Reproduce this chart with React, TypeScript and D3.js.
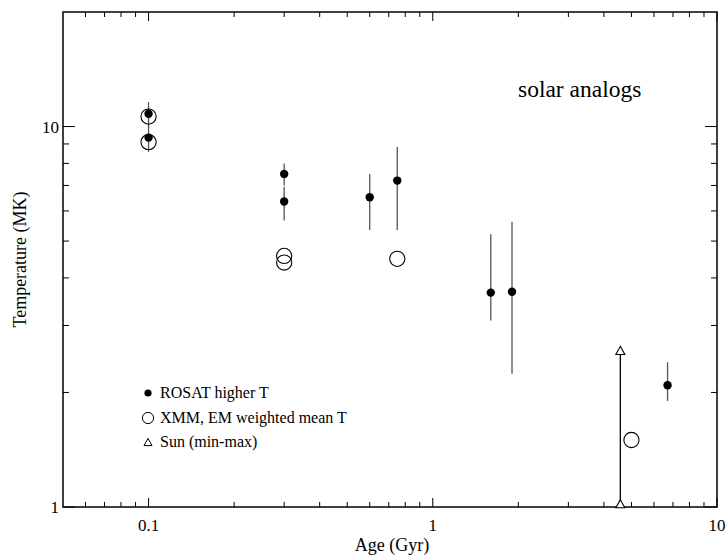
import React from "react";
import * as d3 from "d3";

// ROSAT higher T (filled circles)
const rosatAge = [0.1, 0.1, 0.3, 0.3, 0.6, 0.75, 1.6, 1.9, 6.7];
const rosatT = [10.8, 9.35, 7.5, 6.35, 6.52, 7.21, 3.66, 3.68, 2.09];
const rosatLo = [9.9, 8.58, 7.0, 5.66, 5.35, 5.35, 3.09, 2.24, 1.9];
const rosatHi = [11.6, 10.0, 8.0, 6.95, 7.5, 8.83, 5.21, 5.62, 2.4];

// XMM, EM weighted mean T (open circles)
const xmmAge = [0.1, 0.1, 0.3, 0.3, 0.75, 5.0];
const xmmT = [10.62, 9.1, 4.57, 4.39, 4.49, 1.5];

// Sun (min-max)
const sunAge = [4.57, 4.57];
const sunT = [1.02, 2.58];

const xMajor = [0.1, 1, 10];
const xMajorLabels = ["0.1", "1", "10"];
const xMinor = [0.06, 0.07, 0.08, 0.09, 0.2, 0.3, 0.4, 0.5, 0.6, 0.7, 0.8, 0.9, 2, 3, 4, 5, 6, 7, 8, 9];
const yMajor = [1, 10];
const yMajorLabels = ["1", "10"];
const yMinor = [2, 3, 4, 5, 6, 7, 8, 9];

const legendLabels = ["ROSAT higher T", "XMM, EM weighted mean T", "Sun (min-max)"];

const W = 727;
const H = 556;
const L = 63, R = 717, T = 12, B = 507;
const FONT = "Liberation Serif, Times New Roman, Times, serif";

function tri(cx: number, cy: number, s: number) {
  const h = s * 0.9;
  return `M${cx},${cy - h / 2}L${cx + s / 2},${cy + h / 2}L${cx - s / 2},${cy + h / 2}Z`;
}

export default function App() {
  const x = d3.scaleLog().domain([0.05, 10]).range([L, R]);
  const y = d3.scaleLog().domain([1, 20]).range([B, T]);

  const errColor = "#555";
  const ts = { fontFamily: FONT };

  return (
    <>
      <style>{`body{margin:0} svg text{font-family:"Liberation Serif","Times New Roman",serif}`}</style>
      <svg width={W} height={H} style={{ display: "block", background: "#fff", fontFamily: FONT }}>
        {/* ticks */}
        <g stroke="#000" strokeWidth={1}>
          {xMajor.map((v, i) => (
            <g key={"xM" + i}>
              <line x1={x(v)} x2={x(v)} y1={B} y2={B - 9} />
              <line x1={x(v)} x2={x(v)} y1={T} y2={T + 9} />
            </g>
          ))}
          {xMinor.map((v, i) => (
            <g key={"xm" + i}>
              <line x1={x(v)} x2={x(v)} y1={B} y2={B - 5} />
              <line x1={x(v)} x2={x(v)} y1={T} y2={T + 5} />
            </g>
          ))}
          {yMajor.map((v, i) => (
            <g key={"yM" + i}>
              <line x1={L} x2={L + 12} y1={y(v)} y2={y(v)} />
              <line x1={R} x2={R - 12} y1={y(v)} y2={y(v)} />
            </g>
          ))}
          {yMinor.map((v, i) => (
            <g key={"ym" + i}>
              <line x1={L} x2={L + 6} y1={y(v)} y2={y(v)} />
              <line x1={R} x2={R - 6} y1={y(v)} y2={y(v)} />
            </g>
          ))}
        </g>
        {/* frame */}
        <rect x={L} y={T} width={R - L} height={B - T} fill="none" stroke="#000" strokeWidth={1.5} />

        {/* tick labels */}
        <g fill="#000">
          {xMajor.map((v, i) => (
            <text key={"xl" + i} x={x(v)} y={B + 24} textAnchor="middle" fontSize={17} style={ts}>
              {xMajorLabels[i]}
            </text>
          ))}
          {yMajor.map((v, i) => (
            <text key={"yl" + i} x={L - 4} y={y(v) + 6} textAnchor="end" fontSize={17} style={ts}>
              {yMajorLabels[i]}
            </text>
          ))}
        </g>

        {/* axis titles */}
        <text x={392} y={551} textAnchor="middle" fontSize={18} style={ts}>
          Age (Gyr)
        </text>
        <text transform={`translate(26,${(T + B) / 2}) rotate(-90)`} textAnchor="middle" fontSize={18} style={ts}>
          Temperature (MK)
        </text>
        <text x={518} y={97} fontSize={23.5} style={ts}>
          solar analogs
        </text>

        {/* ROSAT error bars */}
        <g stroke={errColor} strokeWidth={1.3}>
          {rosatAge.map((a, i) => (
            <line key={"eb" + i} x1={x(a)} x2={x(a)} y1={y(rosatLo[i])} y2={y(rosatHi[i])} />
          ))}
        </g>

        {/* Sun */}
        <line x1={x(sunAge[0])} x2={x(sunAge[1])} y1={y(sunT[0])} y2={y(sunT[1])} stroke="#000" strokeWidth={1.3} />
        {sunAge.map((a, i) => (
          <path key={"sun" + i} d={tri(x(a), y(sunT[i]), 9)} fill="#fff" stroke="#000" strokeWidth={1.1} />
        ))}

        {/* XMM open circles */}
        {xmmAge.map((a, i) => (
          <circle key={"x" + i} cx={x(a)} cy={y(xmmT[i])} r={7.6} fill="none" stroke="#000" strokeWidth={1.1} />
        ))}

        {/* ROSAT filled */}
        {rosatAge.map((a, i) => (
          <circle key={"r" + i} cx={x(a)} cy={y(rosatT[i])} r={4.2} fill="#000" />
        ))}

        {/* legend */}
        <g>
          <circle cx={148} cy={393} r={3.6} fill="#000" />
          <text x={160} y={398} fontSize={16} style={ts}>{legendLabels[0]}</text>
          <circle cx={148} cy={418} r={5.6} fill="none" stroke="#000" strokeWidth={1} />
          <text x={160} y={423} fontSize={16} style={ts}>{legendLabels[1]}</text>
          <path d={tri(148, 442, 8)} fill="none" stroke="#000" strokeWidth={1} />
          <text x={160} y={447} fontSize={16} style={ts}>{legendLabels[2]}</text>
        </g>
      </svg>
    </>
  );
}
